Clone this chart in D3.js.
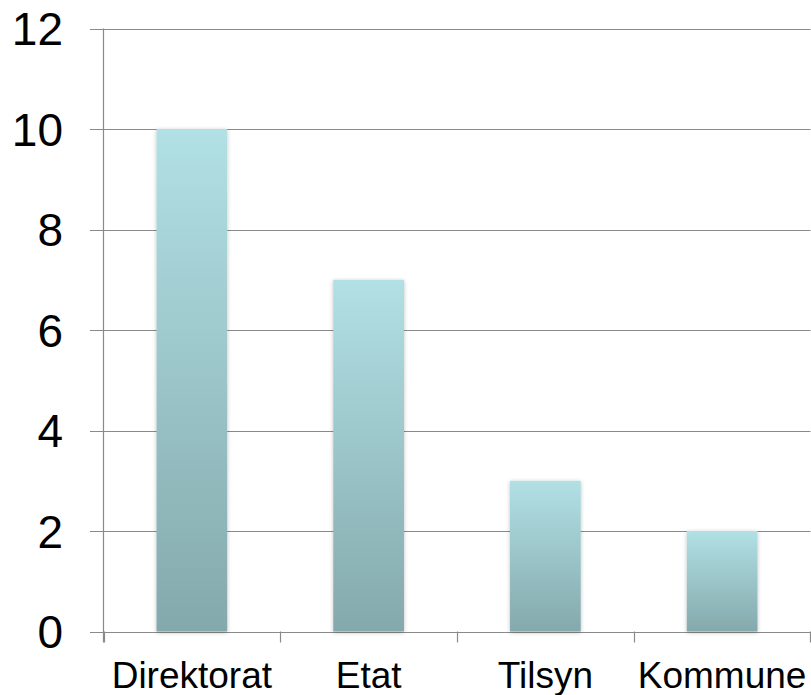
<!DOCTYPE html>
<html>
<head>
<meta charset="utf-8">
<script src="https://cdn.jsdelivr.net/npm/d3@7"></script>
<style>
  html, body { margin: 0; padding: 0; background: #fff; }
  svg { display: block; }
  text { font-family: "Liberation Sans", Arial, sans-serif; fill: #000; }
</style>
</head>
<body>
<svg id="chart" width="811" height="695"></svg>
<script>
// Counts per type of organisation
const categories = ["Direktorat", "Etat", "Tilsyn", "Kommune"];
const counts = [10, 7, 3, 2];
const yTicks = [0, 2, 4, 6, 8, 10, 12];

const svg = d3.select("#chart");
const plotLeft = 103.5, plotRight = 810.5, plotTop = 28.5, plotBottom = 631.5;

const x = d3.scaleBand().domain(categories).range([plotLeft, plotRight]).paddingInner(0.6).paddingOuter(0.3);
const xb = d3.scaleBand().domain(categories).range([plotLeft, plotRight]);
const y = d3.scaleLinear().domain([0, 12]).range([plotBottom, plotTop]);

const defs = svg.append("defs");
const grad = defs.append("linearGradient")
  .attr("id", "barFill").attr("x1", 0).attr("y1", 0).attr("x2", 0).attr("y2", 1);
grad.append("stop").attr("offset", "0%").attr("stop-color", "#b1e0e5");
grad.append("stop").attr("offset", "100%").attr("stop-color", "#84a9ac");

const shadow = defs.append("filter").attr("id", "soft")
  .attr("x", "-20%").attr("y", "-5%").attr("width", "140%").attr("height", "110%");
shadow.append("feGaussianBlur").attr("in", "SourceAlpha").attr("stdDeviation", 2).attr("result", "b");
shadow.append("feOffset").attr("in", "b").attr("dx", 0).attr("dy", 1).attr("result", "o");
shadow.append("feComponentTransfer").attr("in", "o").attr("result", "s")
  .append("feFuncA").attr("type", "linear").attr("slope", 0.25);
const merge = shadow.append("feMerge");
merge.append("feMergeNode").attr("in", "s");
merge.append("feMergeNode").attr("in", "SourceGraphic");

// Horizontal gridlines with short tick stubs to the left of the axis
svg.append("g").selectAll("line").data(yTicks).join("line")
  .attr("x1", 90).attr("x2", plotRight)
  .attr("y1", d => Math.round(y(d)) + 0.5).attr("y2", d => Math.round(y(d)) + 0.5)
  .attr("stroke", "#8a8a8a").attr("stroke-width", 1.2);

// Y axis line
svg.append("line")
  .attr("x1", plotLeft).attr("x2", plotLeft).attr("y1", plotTop).attr("y2", plotBottom + 11)
  .attr("stroke", "#8a8a8a").attr("stroke-width", 1.2);

// Category boundary ticks
const bounds = categories.map(c => xb(c)).concat([plotRight - 1]);
svg.append("g").selectAll("line").data(bounds).join("line")
  .attr("x1", d => Math.round(d) + 0.5).attr("x2", d => Math.round(d) + 0.5)
  .attr("y1", plotBottom).attr("y2", plotBottom + 11)
  .attr("stroke", "#8a8a8a").attr("stroke-width", 1.2);

// Bars
svg.append("g").selectAll("rect").data(counts).join("rect")
  .attr("x", (d, i) => x(categories[i]))
  .attr("width", x.bandwidth())
  .attr("y", d => y(d))
  .attr("height", d => y(0) - y(d))
  .attr("fill", "url(#barFill)")
  .attr("filter", "url(#soft)");

// Y tick labels
svg.append("g").selectAll("text").data(yTicks).join("text")
  .attr("x", 63)
  .attr("y", d => y(d))
  .attr("text-anchor", "end")
  .attr("dy", "0.36em")
  .style("font-size", "46px")
  .text(d => d);

// Category labels
svg.append("g").selectAll("text").data(categories).join("text")
  .attr("x", d => xb(d) + xb.bandwidth() / 2)
  .attr("y", 688)
  .attr("text-anchor", "middle")
  .style("font-size", "37px")
  .text(d => d);
</script>
</body>
</html>
